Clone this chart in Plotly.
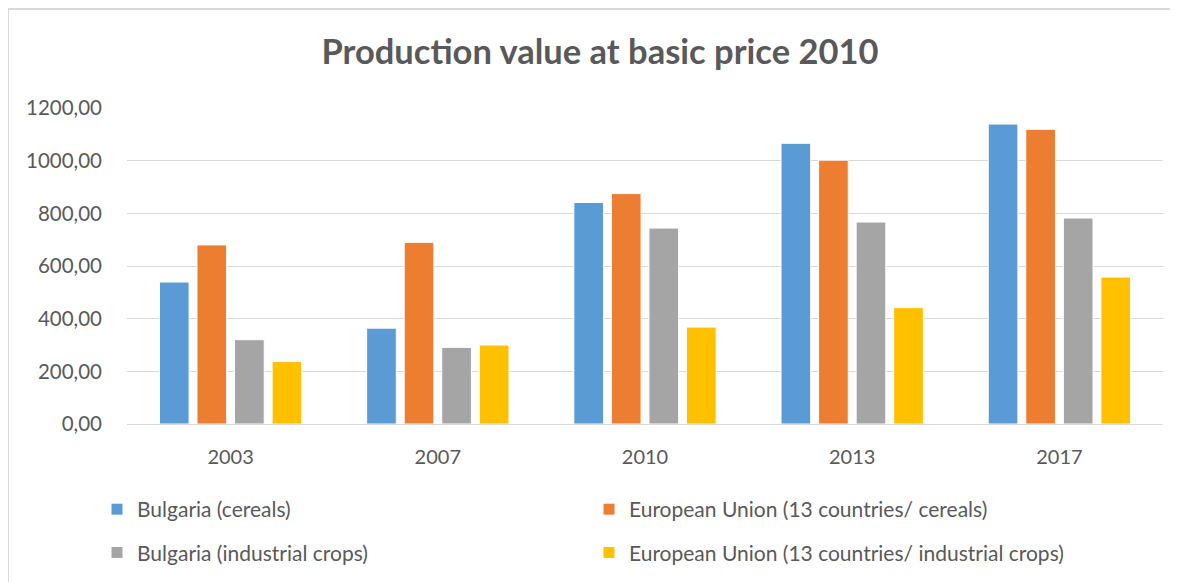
import plotly.graph_objects as go

years = ["2003", "2007", "2010", "2013", "2017"]
bg_cereals = [539, 364, 841, 1066, 1139]
eu_cereals = [680, 690, 875, 1002, 1119]
bg_industrial = [320, 291, 744, 767, 782]
eu_industrial = [237, 300, 368, 442, 558]

series = [
    ("Bulgaria (cereals)", bg_cereals, "#5B9BD5", "legend"),
    ("European Union (13 countries/ cereals)", eu_cereals, "#ED7D31", "legend2"),
    ("Bulgaria (industrial crops)", bg_industrial, "#A5A5A5", "legend"),
    ("European Union (13 countries/ industrial crops)", eu_industrial, "#FFC000", "legend2"),
]

TEXT = "#595959"
FONT = "Lato"

# the page body adds an 8px margin, so the figure is 8px smaller and
# positions given in screen pixels are shifted back by 8
OFF = 8
W, H = 1178 - OFF, 582 - OFF
PLOT_L, PLOT_R, PLOT_T, PLOT_B = 127, 1163, 108, 424  # screen pixels
L, R, T, B = PLOT_L - OFF, 1178 - PLOT_R, PLOT_T - OFF, 582 - PLOT_B
PW, PH = W - L - R, H - T - B


def px_x(x):
    return (x - PLOT_L) / PW


def px_y(y):
    return (PLOT_B - y) / PH


def cont_x(x):
    return (x - OFF) / W


def cont_y(y):
    return 1 - (y - OFF) / H


fig = go.Figure()
for i, (name, vals, color, leg) in enumerate(series):
    fig.add_trace(
        go.Bar(
            x=years,
            y=vals,
            name=name,
            marker=dict(color=color, line=dict(color="white", width=1)),
            legend=leg,
            legendgroup=f"g{i}",
        )
    )

# legends placed in container coords so they don't push the bottom margin
legend_style = dict(
    orientation="v",
    xref="container",
    yref="container",
    xanchor="left",
    yanchor="top",
    y=cont_y(489),
    font=dict(family=FONT, size=21, color=TEXT),
    tracegroupgap=13,
    itemwidth=30,
    bgcolor="rgba(0,0,0,0)",
)

fig.update_layout(
    width=W,
    height=H,
    margin=dict(l=L, r=R, t=T, b=B, autoexpand=False),
    paper_bgcolor="white",
    plot_bgcolor="white",
    font=dict(family=FONT, color=TEXT),
    separators=",.",
    title=dict(
        text="Production value at basic price 2010",
        x=cont_x(600),
        xanchor="center",
        y=cont_y(52),
        yanchor="middle",
        font=dict(family=FONT, size=34.5, color=TEXT, weight="bold"),
    ),
    barmode="group",
    bargap=0.275,
    bargroupgap=0.21,
    legend=dict(legend_style, x=cont_x(97)),
    legend2=dict(legend_style, x=cont_x(589)),
    xaxis=dict(
        showgrid=False,
        showline=False,
        ticks="",
        ticklabelstandoff=19,
        tickfont=dict(family=FONT, size=20, color=TEXT),
    ),
    yaxis=dict(
        range=[0, 1200],
        dtick=200,
        tickformat=".2f",
        gridcolor="#D9D9D9",
        gridwidth=1,
        zeroline=True,
        zerolinecolor="#D9D9D9",
        zerolinewidth=1,
        ticks="",
        ticklabelstandoff=24,
        tickfont=dict(family=FONT, size=20.5, color=TEXT),
    ),
    shapes=[
        dict(
            type="rect",
            xref="paper",
            yref="paper",
            x0=px_x(8),
            x1=px_x(1190),
            y0=px_y(600),
            y1=px_y(9),
            line=dict(color="#D9D9D9", width=2),
            fillcolor="rgba(0,0,0,0)",
            layer="below",
        )
    ],
)

fig.write_html("out.html")
